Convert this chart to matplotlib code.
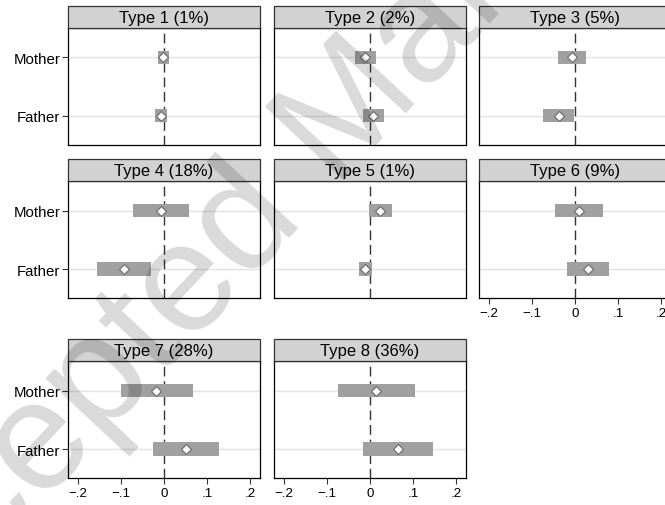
import numpy as np
import matplotlib
matplotlib.use("Agg")
import matplotlib.pyplot as plt
from matplotlib.patches import Rectangle

plt.rcParams['font.family'] = ['Liberation Sans', 'DejaVu Sans']

# estimates and confidence bounds
titles = ["Type 1 (1%)", "Type 2 (2%)", "Type 3 (5%)", "Type 4 (18%)",
          "Type 5 (1%)", "Type 6 (9%)", "Type 7 (28%)", "Type 8 (36%)"]
parents = ["Mother", "Father"]
est_mother = [-0.002, -0.012, -0.008, -0.007, 0.024, 0.009, -0.018, 0.015]
lo_mother = [-0.013, -0.035, -0.040, -0.071, -0.003, -0.047, -0.101, -0.074]
hi_mother = [0.011, 0.014, 0.024, 0.057, 0.050, 0.065, 0.067, 0.105]
est_father = [-0.006, 0.007, -0.038, -0.094, -0.012, 0.029, 0.050, 0.064]
lo_father = [-0.020, -0.016, -0.075, -0.155, -0.025, -0.020, -0.026, -0.016]
hi_father = [0.008, 0.032, -0.002, -0.031, 0.004, 0.078, 0.127, 0.146]
xtick_vals = [-0.2, -0.1, 0, 0.1, 0.2]
xtick_labels = ["\u2212.2", "\u2212.1", "0", ".1", ".2"]

W, H = 665, 506
col_left = [68, 274, 479.3]
row_top = [29, 182.3, 362.3]
aw, ah, hh = 192, 117, 22

fig = plt.figure(figsize=(W / 100, H / 100), dpi=100)

for i, title in enumerate(titles):
    r, c = divmod(i, 3)
    ax = fig.add_axes([col_left[c] / W, 1 - (row_top[r] + ah) / H, aw / W, ah / H])
    ypos = np.arange(1, len(parents) + 1)
    est = [est_mother[i], est_father[i]]
    lo = [lo_mother[i], lo_father[i]]
    hi = [hi_mother[i], hi_father[i]]

    for y in ypos:
        ax.axhline(y, color='#e3e3e3', lw=1.0, zorder=1)
    ax.axvline(0, color='#333333', lw=1.0, dashes=(7, 3.5), zorder=2)
    ax.barh(ypos, np.array(hi) - np.array(lo), left=lo, height=0.23,
            color='#a0a0a0', zorder=3)
    ax.plot(est, ypos, 'D', ms=5.5, mfc='white', mec='#707070', mew=0.9, zorder=4)

    ax.set_xlim(-0.223, 0.223)
    ax.set_ylim(2.5, 0.5)
    for s in ax.spines.values():
        s.set_linewidth(0.9)
        s.set_color('black')

    ax.tick_params(axis='both', direction='out', length=4, width=0.8, color='#333333')
    if c == 0:
        ax.set_yticks(ypos)
        ax.set_yticklabels(parents, fontsize=10.8)
        ax.tick_params(axis='y', pad=1.5)
    else:
        ax.set_yticks([])
    if i >= 5:
        ax.set_xticks(xtick_vals)
        ax.set_xticklabels(xtick_labels, fontsize=9.6)
        ax.tick_params(axis='x', pad=2)
    else:
        ax.set_xticks([])

    # header strip
    ax.add_patch(Rectangle((0, 1), 1, hh / ah, transform=ax.transAxes,
                           facecolor='#d2d2d2', edgecolor='#333333', lw=0.9,
                           clip_on=False, zorder=5))
    ax.text(0.5, 1 + hh / ah / 2, title, transform=ax.transAxes, ha='center',
            va='center', fontsize=12, zorder=6)

fig.text(0.54, 0.676, "Accepted Manuscript", rotation=47, rotation_mode='anchor',
         ha='center', va='baseline', fontsize=112, color='black', alpha=0.15,
         zorder=10)

fig.savefig("out.png", dpi=100)
